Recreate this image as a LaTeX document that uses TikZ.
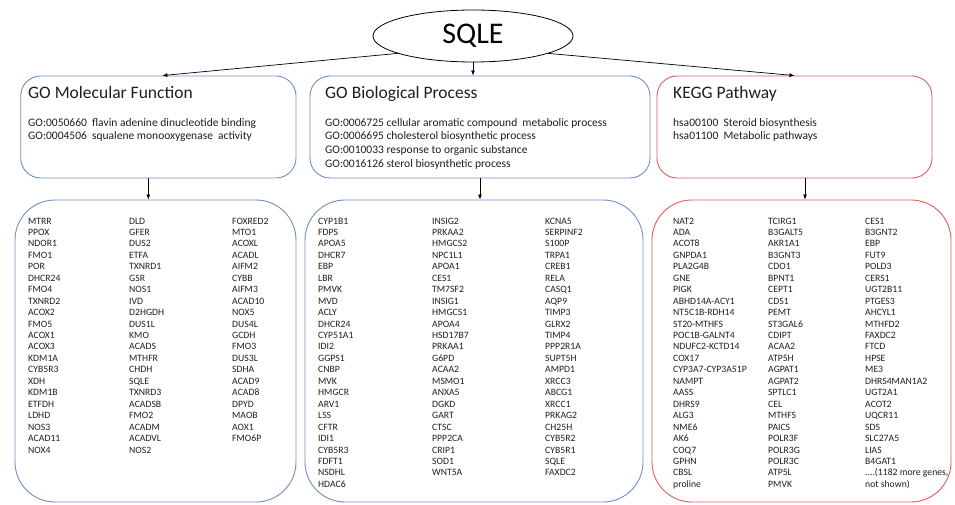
\documentclass[tikz,border=0pt]{standalone}
\usepackage{fontspec}
\setmainfont{Carlito}
\usetikzlibrary{arrows.meta,calc,shapes.geometric}
\definecolor{boxblue}{RGB}{110,142,196}
\definecolor{boxred}{RGB}{226,92,92}
\definecolor{txt}{RGB}{30,30,30}
\newcommand{\genefont}{\fontsize{9.7}{11.45}\selectfont}
\newcommand{\termfont}{\fontsize{11.5}{13.7}\selectfont}
\newcommand{\headfont}{\fontsize{17.5}{21}\selectfont}
\newcommand{\gtop}{\rule{0pt}{7pt}}
\newcommand{\ttop}{\rule{0pt}{10pt}}
\begin{document}
\begin{tikzpicture}[x=1pt,y=-1pt,
  topbox/.style={draw, line width=0.9pt, rounded corners=20pt, inner sep=0},
  listbox/.style={draw, line width=0.9pt, rounded corners=40pt, inner sep=0},
  head/.style={anchor=base west, inner sep=0, text=txt, font=\headfont},
  terms/.style={anchor=north west, inner sep=0, align=left, text=txt, font=\termfont},
  genes/.style={anchor=north west, inner sep=0, align=left, text=txt, font=\genefont},
  conn/.style={-{Latex[length=5pt,width=4pt]}, line width=0.7pt}]

\useasboundingbox (0,0) rectangle (955,505);

\node[ellipse, draw, line width=0.8pt, minimum width=200pt, minimum height=52pt, inner sep=0, font=\fontsize{30}{36}\selectfont] (sqle) at (473,36) {SQLE};

% top boxes
\node[topbox, draw=boxblue, minimum width=275.3pt, minimum height=102pt] (box1) at (158.35,127) {};
\node[topbox, draw=boxblue, minimum width=340pt, minimum height=102pt] (box2) at (480,127) {};
\node[topbox, draw=boxred, minimum width=275pt, minimum height=102pt] (box3) at (794.5,127) {};

% list boxes
\node[listbox, draw=boxblue, minimum width=281pt, minimum height=302pt] (list1) at (155.5,351) {};
\node[listbox, draw=boxblue, minimum width=338pt, minimum height=302pt] (list2) at (474,351) {};
\node[listbox, draw=boxred, minimum width=299pt, minimum height=302pt] (list3) at (801.5,351) {};

% connectors
\draw[conn] (sqle.193) -- ([xshift=4pt]box1.north);
\draw[conn] (sqle.south) -- (sqle.south |- box2.north);
\draw[conn] (sqle.347) -- (box3.north);
\draw[conn] ([xshift=-10pt]box1.south) -- ([xshift=-10pt]box1.south |- list1.north);
\draw[conn] (box2.south) -- (box2.south |- list2.north);
\draw[conn] ([xshift=10.5pt]box3.south) -- ([xshift=10.5pt]box3.south |- list3.north);

% headers
\node[head] (h1) at (28,99) {GO Molecular Function};
\node[head] (h2) at (325,99) {GO Biological Process};
\node[head] (h3) at (673,99) {KEGG Pathway};

% terms
\node[terms] (t1) at (28,116) {\ttop GO:0050660~ flavin adenine dinucleotide binding\\GO:0004506~ squalene monooxygenase~ activity};
\node[terms] (t2) at (325,116) {\ttop GO:0006725 cellular aromatic compound~ metabolic process\\GO:0006695 cholesterol biosynthetic process\\GO:0010033 response to organic substance\\GO:0016126 sterol biosynthetic process};
\node[terms] (t3) at (673,116) {\ttop hsa00100~ Steroid biosynthesis\\hsa01100~ Metabolic pathways};

% gene lists
\node[genes] (g11) at (28,216.8) {\gtop MTRR\\PPOX\\NDOR1\\FMO1\\POR\\DHCR24\\FMO4\\TXNRD2\\ACOX2\\FMO5\\ACOX1\\ACOX3\\KDM1A\\CYB5R3\\XDH\\KDM1B\\ETFDH\\LDHD\\NOS3\\ACAD11\\NOX4};
\node[genes] (g12) at (129,216.8) {\gtop DLD\\GFER\\DUS2\\ETFA\\TXNRD1\\GSR\\NOS1\\IVD\\D2HGDH\\DUS1L\\KMO\\ACADS\\MTHFR\\CHDH\\SQLE\\TXNRD3\\ACADSB\\FMO2\\ACADM\\ACADVL\\NOS2};
\node[genes] (g13) at (232,216.8) {\gtop FOXRED2\\MTO1\\ACOXL\\ACADL\\AIFM2\\CYBB\\AIFM3\\ACAD10\\NOX5\\DUS4L\\GCDH\\FMO3\\DUS3L\\SDHA\\ACAD9\\ACAD8\\DPYD\\MAOB\\AOX1\\FMO6P};

\node[genes] (g21) at (318,216.8) {\gtop CYP1B1\\FDPS\\APOA5\\DHCR7\\EBP\\LBR\\PMVK\\MVD\\ACLY\\DHCR24\\CYP51A1\\IDI2\\GGPS1\\CNBP\\MVK\\HMGCR\\ARV1\\LSS\\CFTR\\IDI1\\CYB5R3\\FDFT1\\NSDHL\\HDAC6};
\node[genes] (g22) at (432,216.8) {\gtop INSIG2\\PRKAA2\\HMGCS2\\NPC1L1\\APOA1\\CES1\\TM7SF2\\INSIG1\\HMGCS1\\APOA4\\HSD17B7\\PRKAA1\\G6PD\\ACAA2\\MSMO1\\ANXA5\\DGKD\\GART\\CTSC\\PPP2CA\\CRIP1\\SOD1\\WNT5A};
\node[genes] (g23) at (545,216.8) {\gtop KCNA5\\SERPINF2\\S100P\\TRPA1\\CREB1\\RELA\\CASQ1\\AQP9\\TIMP3\\GLRX2\\TIMP4\\PPP2R1A\\SUPT5H\\AMPD1\\XRCC3\\ABCG1\\XRCC1\\PRKAG2\\CH25H\\CYB5R2\\CYB5R1\\SQLE\\FAXDC2};

\node[genes] (g31) at (673,216.8) {\gtop NAT2\\ADA\\ACOT8\\GNPDA1\\PLA2G4B\\GNE\\PIGK\\ABHD14A-ACY1\\NT5C1B-RDH14\\ST20-MTHFS\\POC1B-GALNT4\\NDUFC2-KCTD14\\COX17\\CYP3A7-CYP3A51P\\NAMPT\\AASS\\DHRS9\\ALG3\\NME6\\AK6\\COQ7\\GPHN\\CBSL\\proline};
\node[genes] (g32) at (768,216.8) {\gtop TCIRG1\\B3GALT5\\AKR1A1\\B3GNT3\\CDO1\\BPNT1\\CEPT1\\CDS1\\PEMT\\ST3GAL6\\CDIPT\\ACAA2\\ATP5H\\AGPAT1\\AGPAT2\\SPTLC1\\CEL\\MTHFS\\PAICS\\POLR3F\\POLR3G\\POLR3C\\ATP5L\\PMVK};
\node[genes] (g33) at (865,216.8) {\gtop CES1\\B3GNT2\\EBP\\FUT9\\POLD3\\CERS1\\UGT2B11\\PTGES3\\AHCYL1\\MTHFD2\\FAXDC2\\FTCD\\HPSE\\ME3\\DHRS4MAN1A2\\UGT2A1\\ACOT2\\UQCR11\\SDS\\SLC27A5\\LIAS\\B4GAT1\\....(1182 more genes,\\not shown)};
\end{tikzpicture}
\end{document}
